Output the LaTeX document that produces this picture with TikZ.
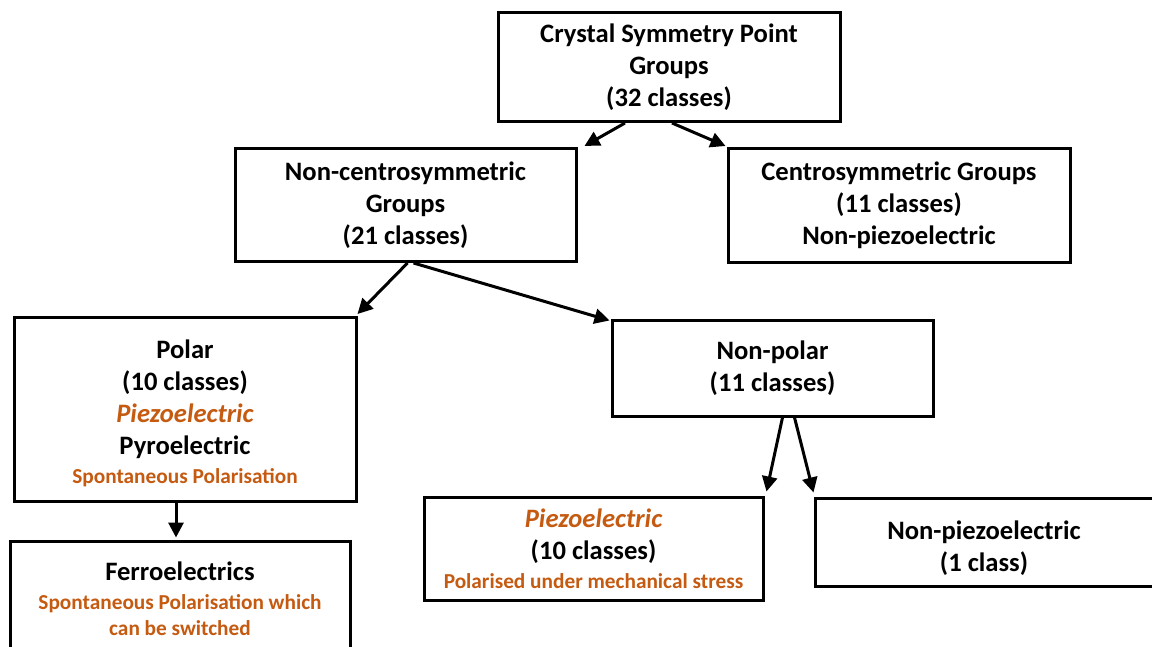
\documentclass[tikz,border=0pt]{standalone}
\usepackage{fontspec}
\setmainfont{Carlito}
\usetikzlibrary{arrows.meta,calc}
\definecolor{orng}{HTML}{C55A11}
\tikzset{
  box/.style={draw, line width=3pt, align=center, inner sep=0pt,
    font=\fontsize{26.6}{32}\selectfont\bfseries},
  arr/.style={line width=3pt, -{Triangle[length=15pt,width=15pt]}},
}
\newcommand{\orsm}[1]{{\color{orng}\fontsize{21.3}{26}\selectfont #1}}
\newcommand{\orit}[1]{{\color{orng}\itshape #1}}
\begin{document}
\begin{tikzpicture}[x=1pt,y=-1pt]
\clip (0,0) rectangle (1152,647);
\fill[white] (0,0) rectangle (1152,647);

\node[box, minimum width=342pt, minimum height=109pt] (top) at (669,67)
  {Crystal Symmetry Point\\Groups\\(32 classes)};
\node[box, minimum width=341pt, minimum height=113pt] (nonc) at (405.5,205)
  {Non-centrosymmetric\\Groups\\(21 classes)};
\node[box, minimum width=342pt, minimum height=114pt] (centro) at (899,205.5)
  {Centrosymmetric Groups\\(11 classes)\\Non-piezoelectric};
\node[box, minimum width=342pt, minimum height=184pt] (polar) at (185,409.5)
  {\rule{0pt}{26pt}Polar\\(10 classes)\\\orit{Piezoelectric}\\Pyroelectric\\[-3pt]\orsm{Spontaneous Polarisation}};
\node[box, minimum width=340pt, minimum height=116pt] (ferro) at (180,599)
  {Ferroelectrics\\[-3pt]\orsm{Spontaneous Polarisation which}\\[-6pt]\orsm{can be switched}};
\node[box, minimum width=321pt, minimum height=96pt] (npolar) at (772.5,368)
  {Non-polar\\(11 classes)};
\node[box, minimum width=339pt, minimum height=103pt] (piezo) at (593.5,548.5)
  {\orit{Piezoelectric}\\(10 classes)\\[-3pt]\orsm{Polarised under mechanical stress}};
\node[box, minimum width=338pt, minimum height=88pt] (nonpiezo) at (984,542)
  {\rule{0pt}{32pt}Non-piezoelectric\\(1 class)};

\draw[arr] ([xshift=-44pt]top.south) -- ([xshift=7pt,yshift=1pt]nonc.north east);
\draw[arr] ([xshift=3pt]top.south) -- ([xshift=-1pt,yshift=1pt]centro.north west);
\draw[arr] ([xshift=2pt]nonc.south) -- ([xshift=0pt,yshift=2pt]polar.north east);
\draw[arr] ([xshift=8pt]nonc.south) -- ([xshift=-1pt,yshift=-2pt]npolar.north west);
\draw[arr] ([xshift=10pt]npolar.south) -- ([xshift=2pt,yshift=4pt]piezo.north east);
\draw[arr] ([xshift=22pt]npolar.south) -- ([xshift=0pt,yshift=4pt]nonpiezo.north west);
\draw[arr] ([xshift=-9pt]polar.south) -- ([xshift=-4pt,yshift=2pt]ferro.north);
\end{tikzpicture}
\end{document}
